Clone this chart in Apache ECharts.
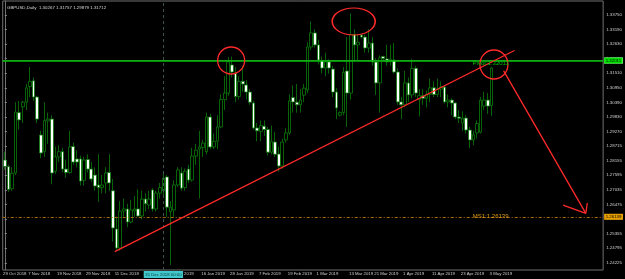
<!DOCTYPE html>
<html>
<head>
<meta charset="utf-8">
<script src="https://cdn.jsdelivr.net/npm/echarts@6/dist/echarts.min.js"></script>
<style>
html, body { margin: 0; padding: 0; background: #000; }
#chart { width: 625px; height: 279px; }
</style>
</head>
<body>
<div id="chart"></div>
<script>
// GBPUSD daily bars, 29 Oct 2018 - 3 May 2019
const dates = [
  '29 Oct 2018','30 Oct 2018','31 Oct 2018',
  '1 Nov 2018','2 Nov 2018','5 Nov 2018','6 Nov 2018','7 Nov 2018','8 Nov 2018','9 Nov 2018','12 Nov 2018','13 Nov 2018','14 Nov 2018','15 Nov 2018','16 Nov 2018','19 Nov 2018','20 Nov 2018','21 Nov 2018','22 Nov 2018','23 Nov 2018','26 Nov 2018','27 Nov 2018','28 Nov 2018','29 Nov 2018','30 Nov 2018',
  '3 Dec 2018','4 Dec 2018','5 Dec 2018','6 Dec 2018','7 Dec 2018','10 Dec 2018','11 Dec 2018','12 Dec 2018','13 Dec 2018','14 Dec 2018','17 Dec 2018','18 Dec 2018','19 Dec 2018','20 Dec 2018','21 Dec 2018','24 Dec 2018','26 Dec 2018','27 Dec 2018','28 Dec 2018','31 Dec 2018',
  '2 Jan 2019','3 Jan 2019','4 Jan 2019','7 Jan 2019','8 Jan 2019','9 Jan 2019','10 Jan 2019','11 Jan 2019','14 Jan 2019','15 Jan 2019','16 Jan 2019','17 Jan 2019','18 Jan 2019','21 Jan 2019','22 Jan 2019','23 Jan 2019','24 Jan 2019','25 Jan 2019','28 Jan 2019','29 Jan 2019','30 Jan 2019','31 Jan 2019',
  '1 Feb 2019','4 Feb 2019','5 Feb 2019','6 Feb 2019','7 Feb 2019','8 Feb 2019','11 Feb 2019','12 Feb 2019','13 Feb 2019','14 Feb 2019','15 Feb 2019','18 Feb 2019','19 Feb 2019','20 Feb 2019','21 Feb 2019','22 Feb 2019','25 Feb 2019','26 Feb 2019','27 Feb 2019','28 Feb 2019',
  '1 Mar 2019','4 Mar 2019','5 Mar 2019','6 Mar 2019','7 Mar 2019','8 Mar 2019','10 Mar 2019','11 Mar 2019','12 Mar 2019','13 Mar 2019','14 Mar 2019','15 Mar 2019','17 Mar 2019','18 Mar 2019','19 Mar 2019','20 Mar 2019','21 Mar 2019','22 Mar 2019','24 Mar 2019','25 Mar 2019','26 Mar 2019','27 Mar 2019','28 Mar 2019','29 Mar 2019',
  '1 Apr 2019','2 Apr 2019','3 Apr 2019','4 Apr 2019','5 Apr 2019','8 Apr 2019','9 Apr 2019','10 Apr 2019','11 Apr 2019','12 Apr 2019','15 Apr 2019','16 Apr 2019','17 Apr 2019','18 Apr 2019','19 Apr 2019','22 Apr 2019','23 Apr 2019','24 Apr 2019','25 Apr 2019','26 Apr 2019','29 Apr 2019','30 Apr 2019',
  '1 May 2019','2 May 2019','3 May 2019'
];

const opens = [
  1.2818,1.2793,1.2708,
  1.2768,1.3000,1.3022,1.3040,1.3100,1.3122,1.3060,1.2914,1.2850,1.2968,1.2975,1.2775,1.2830,1.2850,1.2783,1.2770,1.2870,1.2822,1.2822,1.2740,1.2820,1.2783,
  1.2760,1.2722,1.2712,1.2730,1.2770,1.2700,1.2553,1.2480,1.2622,1.2630,1.2580,1.2622,1.2630,1.2603,1.2668,1.2645,1.2703,1.2630,1.2691,1.2700,
  1.2753,1.2620,1.2626,1.2722,1.2768,1.2712,1.2783,1.2741,1.2833,1.2860,1.2866,1.2850,1.2983,1.2868,1.2890,1.2945,1.3050,1.3075,1.3183,1.3152,1.3062,1.3120,
  1.3106,1.3079,1.3037,1.2941,1.2928,1.2948,1.2935,1.2848,1.2887,1.2841,1.2795,1.2895,1.2922,1.3058,1.3040,1.3030,1.3067,1.3087,1.3252,1.3306,
  1.3260,1.3200,1.3171,1.3195,1.3167,1.3079,1.2990,1.3000,1.3160,1.3075,1.3300,1.3260,1.3298,1.3290,1.3248,1.3267,1.3194,1.3114,1.3215,1.3206,1.3195,1.3202,1.3156,1.3041,
  1.3030,1.3114,1.3068,1.3170,1.3050,1.3065,1.3055,1.3070,1.3095,1.3070,1.3090,1.3098,1.3041,1.3048,1.3037,1.2983,1.2960,1.2979,1.2933,1.2895,1.2922,1.2925,
  1.3025,1.3048,1.30267
];
const highs = [
  1.2850,1.2800,1.2790,
  1.3040,1.3045,1.3045,1.3110,1.3175,1.3135,1.3065,1.2930,1.3040,1.3000,1.2990,1.2870,1.2875,1.2865,1.2820,1.2930,1.2885,1.2855,1.2835,1.2830,1.2840,1.2810,
  1.2790,1.2840,1.2760,1.2790,1.2840,1.2745,1.2600,1.2660,1.2670,1.2650,1.2665,1.2680,1.2705,1.2700,1.2690,1.2700,1.2710,1.2700,1.2730,1.2770,
  1.2760,1.2660,1.2740,1.2790,1.2790,1.2785,1.2800,1.2865,1.2880,1.2930,1.2895,1.3000,1.2995,1.2920,1.2990,1.3070,1.3140,1.3214,1.3215,1.3175,1.3140,1.3180,
  1.3125,1.3090,1.3045,1.2960,1.2970,1.2970,1.2945,1.2950,1.2925,1.2870,1.2900,1.2940,1.3070,1.3105,1.3110,1.3090,1.3110,1.3270,1.3350,1.3320,
  1.3280,1.3215,1.3230,1.3205,1.3180,1.3095,1.3005,1.3175,1.3290,1.3381,1.3320,1.3300,1.3300,1.3300,1.3320,1.3290,1.3210,1.3220,1.3218,1.3260,1.3260,1.3267,1.3170,1.3060,
  1.3160,1.3135,1.3205,1.3180,1.3090,1.3090,1.3085,1.3130,1.3120,1.3130,1.3120,1.3105,1.3070,1.3055,1.3040,1.3010,1.3005,1.2990,1.2945,1.2930,1.2970,1.3060,
  1.3080,1.3075,1.31757
];
const lows = [
  1.2780,1.2696,1.2700,
  1.2760,1.2935,1.2960,1.3010,1.3060,1.3045,1.2960,1.2825,1.2830,1.2880,1.2725,1.2765,1.2810,1.2770,1.2750,1.2765,1.2800,1.2790,1.2720,1.2720,1.2770,1.2735,
  1.2700,1.2658,1.2690,1.2690,1.2700,1.2505,1.2470,1.2470,1.2600,1.2560,1.2575,1.2600,1.2600,1.2590,1.2620,1.2630,1.2620,1.2620,1.2670,1.2680,
  1.2600,1.2415,1.2600,1.2715,1.2700,1.2700,1.2730,1.2735,1.2800,1.2670,1.2830,1.2840,1.2860,1.2860,1.2860,1.2940,1.3010,1.3065,1.3135,1.3040,1.3050,1.3080,
  1.3050,1.3030,1.2935,1.2890,1.2890,1.2910,1.2835,1.2840,1.2830,1.2773,1.2785,1.2885,1.2915,1.3000,1.3000,1.3000,1.3040,1.3075,1.3240,1.3250,
  1.3185,1.3150,1.3140,1.3150,1.3060,1.2975,1.2985,1.2990,1.2945,1.3050,1.3200,1.3200,1.3285,1.3230,1.3230,1.3180,1.3068,1.3000,1.3200,1.3180,1.3180,1.3150,1.3030,1.2975,
  1.3020,1.3040,1.3055,1.3060,1.2985,1.3030,1.3020,1.3040,1.3060,1.3060,1.3060,1.3035,1.3020,1.2990,1.2975,1.2960,1.2930,1.2920,1.2864,1.2875,1.2900,1.2920,
  1.3010,1.2995,1.29879
];
const closes = [
  1.2793,1.2705,1.2767,
  1.3002,1.2972,1.3040,1.3095,1.3120,1.3060,1.2975,1.2845,1.2970,1.2975,1.2768,1.2830,1.2850,1.2783,1.2770,1.2868,1.2810,1.2810,1.2737,1.2818,1.2783,1.2745,
  1.2718,1.2712,1.2722,1.2768,1.2730,1.2557,1.2480,1.2622,1.2630,1.2580,1.2626,1.2630,1.2603,1.2668,1.2650,1.2668,1.2630,1.2691,1.2712,1.2749,
  1.2637,1.2637,1.2722,1.2780,1.2710,1.2775,1.2741,1.2833,1.2856,1.2868,1.2883,1.2983,1.2868,1.2890,1.2945,1.3050,1.3075,1.3195,1.3156,1.3062,1.3120,1.3110,
  1.3079,1.3040,1.2941,1.2930,1.2950,1.2935,1.2848,1.2890,1.2840,1.2795,1.2887,1.2922,1.3045,1.3041,1.3030,1.3048,1.3094,1.3252,1.3306,1.3260,
  1.3202,1.3171,1.3195,1.3171,1.3079,1.3018,1.3000,1.3155,1.3075,1.3300,1.3260,1.3270,1.3290,1.3248,1.3267,1.3194,1.3114,1.3210,1.3208,1.3195,1.3205,1.3156,1.3041,1.3030,
  1.3114,1.3068,1.3170,1.3075,1.3065,1.3055,1.3070,1.3095,1.3070,1.3090,1.3098,1.3041,1.3048,1.3037,1.2983,1.2978,1.2979,1.2933,1.2895,1.2915,1.2958,1.3048,
  1.3048,1.3025,1.31712
];

const xTickDates = ['29 Oct 2018','7 Nov 2018','19 Nov 2018','29 Nov 2018','11 Dec 2018','21 Dec 2018','4 Jan 2019',
  '16 Jan 2019','28 Jan 2019','7 Feb 2019','19 Feb 2019','1 Mar 2019','13 Mar 2019','21 Mar 2019','1 Apr 2019',
  '11 Apr 2019','23 Apr 2019','3 May 2019'];
const yTicks = [1.24225,1.24795,1.25355,1.25915,1.26475,1.27035,1.27595,1.28155,1.28715,1.29270,
  1.29830,1.30390,1.30950,1.31510,1.32070,1.32630,1.33190,1.33750];

const pivot = 1.32011;
const ms1 = 1.26139;
const bid = 1.31712;
const markedDate = '31 Dec 2018';
const title = 'GBPUSD,Daily  1.30267 1.31757 1.29879 1.31712';

// drawn objects (time index, price)
const trendLine = [[30.5, 1.24659], [141.4, 1.32385]];
const arrowLine = [[138.4, 1.3160], [161.2, 1.2613]];
const arrowWings = [[[154.9, 1.2645], [161.2, 1.2613]], [[161.6, 1.2653], [161.2, 1.2613]]];
const ellipses = [
  { at: [62.8, 1.32001], size: [27, 27] },
  { at: [96.8, 1.33499], size: [43, 27] },
  { at: [135.7, 1.31847], size: [28, 29] }
];

const bars = dates.map((d, i) => [i, opens[i], closes[i], lows[i], highs[i]]);
const xTickIdx = xTickDates.map(d => dates.indexOf(d));

const RED = '#ff2a2a';
const GREEN = '#0a7c0a';
const FONT = 'Liberation Sans';
const redLine = { color: RED, width: 1.3, type: 'solid' };

const chart = echarts.init(document.getElementById('chart'));

chart.setOption({
  backgroundColor: '#000',
  animation: false,
  title: {
    text: title, left: 2, top: 1,
    textStyle: { color: '#d8d8d8', fontSize: 4.4, fontWeight: 'normal', fontFamily: FONT }
  },
  grid: { left: 1, right: 21, top: 1, bottom: 9, show: true, borderColor: '#707070', borderWidth: 1 },
  xAxis: {
    type: 'value', min: -0.58, max: 166,
    splitLine: { show: false }, axisLine: { show: false }, axisTick: { show: false },
    axisLabel: {
      customValues: xTickIdx.map(i => i - 0.5),
      formatter: v => dates[Math.round(v + 0.5)] || '',
      align: 'left', margin: 2,
      color: '#d0d0d0', fontSize: 4.3, fontFamily: FONT
    }
  },
  yAxis: {
    type: 'value', position: 'right', min: 1.23956, max: 1.34286, scale: true,
    splitLine: { show: false },
    axisLine: { show: true, lineStyle: { color: '#707070' } },
    axisTick: { show: true, length: 2, inside: false, customValues: yTicks, lineStyle: { color: '#909090' } },
    axisLabel: {
      customValues: yTicks, formatter: v => v.toFixed(5), margin: 3,
      color: '#d0d0d0', fontSize: 4.4, fontFamily: FONT
    }
  },
  series: [{
    type: 'candlestick',
    dimensions: ['idx', 'open', 'close', 'lowest', 'highest'],
    encode: { x: 'idx', y: ['open', 'close', 'lowest', 'highest'] },
    data: bars,
    barWidth: 3.2,
    itemStyle: {
      color: '#000000', color0: '#ffffff',
      borderColor: GREEN, borderColor0: GREEN, borderWidth: 0.8
    },
    markLine: {
      silent: true, symbol: ['none', 'none'], animation: false,
      data: [
        {
          yAxis: ms1,
          lineStyle: { color: '#a86a10', width: 1, type: [3, 2, 1, 2] },
          label: { show: true, position: 'end', distance: 1, formatter: ms1.toFixed(5),
            backgroundColor: '#e8a000', color: '#000', fontSize: 4.4, fontFamily: FONT, padding: [1, 1.5] }
        },
        {
          yAxis: bid,
          lineStyle: { color: '#5a6068', width: 1, type: 'solid' },
          label: { show: true, position: 'end', distance: 1, formatter: bid.toFixed(5),
            backgroundColor: '#ffffff', color: '#000', fontSize: 4.4, fontFamily: FONT, padding: [1, 1.5] }
        },
        {
          yAxis: pivot,
          lineStyle: { color: '#00c000', width: 1.5, type: 'solid' },
          label: { show: true, position: 'end', distance: 1, formatter: pivot.toFixed(5),
            backgroundColor: '#00e000', color: '#000', fontSize: 4.4, fontFamily: FONT, padding: [1, 1.5] }
        },
        {
          xAxis: dates.indexOf(markedDate),
          lineStyle: { color: '#3e5252', width: 1, type: [3, 3] },
          label: { show: true, position: 'start', distance: 1, formatter: markedDate + ' 00:00',
            backgroundColor: '#40c8cc', color: '#0a3a3a', fontSize: 4.3, fontFamily: FONT, padding: [1.5, 1.5] }
        },
        [{ coord: trendLine[0], lineStyle: redLine, label: { show: false } }, { coord: trendLine[1] }],
        [{ coord: arrowLine[0], lineStyle: redLine, label: { show: false } }, { coord: arrowLine[1] }],
        [{ coord: arrowWings[0][0], lineStyle: redLine, label: { show: false } }, { coord: arrowWings[0][1] }],
        [{ coord: arrowWings[1][0], lineStyle: redLine, label: { show: false } }, { coord: arrowWings[1][1] }]
      ]
    },
    markPoint: {
      silent: true, animation: false,
      data: [
        {
          coord: [134.8, pivot - 0.00134], symbol: 'rect', symbolSize: 1,
          itemStyle: { color: 'rgba(0,0,0,0)' },
          label: { show: true, position: 'inside', formatter: 'Pivot:' + pivot.toFixed(5),
            color: '#00c000', fontSize: 6, fontFamily: FONT }
        },
        {
          coord: [134.8, ms1 - 0.00134], symbol: 'rect', symbolSize: 1,
          itemStyle: { color: 'rgba(0,0,0,0)' },
          label: { show: true, position: 'inside', formatter: 'MS1:' + ms1.toFixed(5),
            color: '#e09a10', fontSize: 6, fontFamily: FONT }
        }
      ].concat(ellipses.map(e => ({
        coord: e.at, symbol: 'circle', symbolSize: e.size,
        itemStyle: { color: 'rgba(0,0,0,0)', borderColor: RED, borderWidth: 1.3 },
        label: { show: false }
      })))
    }
  }]
});
</script>
</body>
</html>
